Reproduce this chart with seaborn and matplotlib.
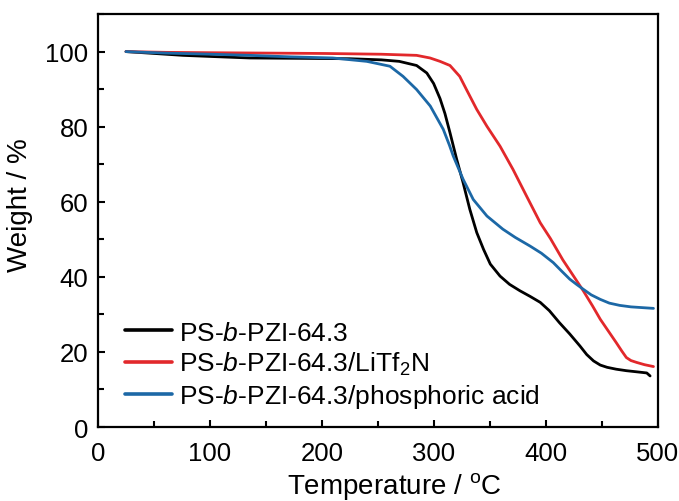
import numpy as np
import pandas as pd
import matplotlib
matplotlib.use("Agg")
import matplotlib.pyplot as plt
import seaborn as sns
from matplotlib.ticker import MultipleLocator

# Data (temperature in degC, weight in %)
t_black = [25, 50.6, 75.9, 101, 135.7, 182, 225, 253, 269, 284.5, 293.6, 299.7, 305.4, 309.8, 314.3, 320.3, 326, 332,
           338.2, 344.3, 350.3, 359, 367.5, 376.7, 385.8, 394.9, 403, 412, 421.2, 430.3, 436.4, 442.5, 448.5, 454.6,
           462.7, 471.8, 481, 490, 493]
w_black = [100, 99.5, 99.0, 98.7, 98.3, 98.2, 98.1, 97.8, 97.4, 96.3, 94.3, 91.5, 87.5, 83.5, 78.4, 71.3, 65.1, 58.0,
           51.8, 47.3, 43.4, 40.2, 38.0, 36.3, 34.8, 33.2, 31.0, 27.8, 24.8, 21.6, 19.3, 17.6, 16.5, 15.9,
           15.4, 15.0, 14.7, 14.4, 13.6]

t_red = [25, 60.8, 101, 152, 202.5, 253, 284.5, 296.5, 305.4, 314.3, 323, 329, 338.2, 347.3, 359, 370.6, 382.7, 394.9,
         404, 415.1, 424.2, 433.3, 441.5, 448.5, 455.6, 462.7, 467.8, 471.8, 475.9, 481, 488, 496]
w_red = [100, 99.8, 99.7, 99.6, 99.5, 99.3, 99.0, 98.3, 97.4, 96.3, 93.4, 89.9, 84.6, 80.1, 74.8, 68.6, 61.5, 54.4,
         50.2, 44.5, 40.4, 36.3, 32.3, 28.7, 25.6, 22.5, 20.2, 18.5, 17.7, 17.2, 16.6, 16.1]

t_blue = [25, 60.8, 101, 135.7, 172, 209.6, 240, 260.7, 272.4, 284.5, 296.7, 308.3, 313.9, 317.2, 326, 335.1, 347.3,
          361.5, 372.6, 385.8, 395.9, 406.5, 414.1, 421.2, 427.3, 433.3, 440.4, 448.5, 456.6, 465.8, 475.9, 486, 496]
w_blue = [100, 99.6, 99.3, 99.0, 98.6, 98.3, 97.4, 96.1, 93.4, 89.9, 85.5, 79.3, 75.0, 72.2, 66.0, 60.6, 56.2,
          52.7, 50.5, 48.2, 46.3, 43.8, 41.5, 39.4, 38.0, 36.7, 35.2, 34.0, 33.0, 32.4, 32.0, 31.8, 31.6]

labels = [r"PS-$\mathit{b}$-PZI-64.3",
          r"PS-$\mathit{b}$-PZI-64.3/LiTf$_2$N",
          r"PS-$\mathit{b}$-PZI-64.3/phosphoric acid"]
colors = ["#000000", "#e2282b", "#1c68a6"]

x_ticks = [0, 100, 200, 300, 400, 500]
y_ticks = [0, 20, 40, 60, 80, 100]

frames = []
for t, w, lab in zip([t_black, t_red, t_blue], [w_black, w_red, w_blue], labels):
    frames.append(pd.DataFrame({"T": t, "W": w, "sample": lab}))
df = pd.concat(frames, ignore_index=True)

sns.set_style("ticks")
plt.rcParams["font.family"] = ["Liberation Sans", "DejaVu Sans"]
plt.rcParams["mathtext.fontset"] = "custom"
plt.rcParams["mathtext.rm"] = "Liberation Sans"
plt.rcParams["mathtext.it"] = "Liberation Sans:italic"
plt.rcParams["mathtext.default"] = "regular"
plt.rcParams["text.color"] = "black"
plt.rcParams["axes.labelcolor"] = "black"
plt.rcParams["xtick.color"] = "black"
plt.rcParams["ytick.color"] = "black"

fig = plt.figure(figsize=(6.79, 5.02), dpi=100)
ax = fig.add_axes([0.1443, 0.1474, 0.8247, 0.8226])

sns.lineplot(data=df, x="T", y="W", hue="sample", palette=dict(zip(labels, colors)),
             hue_order=labels, linewidth=2.0, ax=ax, sort=False, estimator=None)
for ln in ax.get_lines():
    ln.set_solid_joinstyle("round")
    ln.set_solid_capstyle("round")

ax.set_xlim(0, 500)
ax.set_ylim(0, 110)
ax.set_xticks(x_ticks)
ax.set_yticks(y_ticks)
ax.xaxis.set_minor_locator(MultipleLocator(50))
ax.yaxis.set_minor_locator(MultipleLocator(10))
ax.tick_params(which="both", direction="in", width=1.5, labelsize=18.5, colors="black")
ax.tick_params(which="major", length=5)
ax.tick_params(which="minor", length=4)
ax.tick_params(axis="x", pad=10)
ax.tick_params(axis="y", pad=7)
for s in ax.spines.values():
    s.set_linewidth(1.6)
    s.set_color("black")

ax.set_xlabel(r"Temperature / $^{\mathrm{o}}$C", fontsize=20)
ax.set_ylabel("Weight / %", fontsize=20)
ax.xaxis.set_label_coords(0.529, -0.105, transform=ax.transAxes)
ax.xaxis.label.set_verticalalignment("top")
ax.yaxis.set_label_coords(-0.116, 0.54, transform=ax.transAxes)

leg = ax.legend(loc="lower left", bbox_to_anchor=(0.048, 0.04), frameon=False, fontsize=19,
                handlelength=1.8, handletextpad=0.25, labelspacing=0.2, borderaxespad=0, borderpad=0)
for line in leg.get_lines():
    line.set_linewidth(2.6)

fig.savefig("out.png", dpi=100)
